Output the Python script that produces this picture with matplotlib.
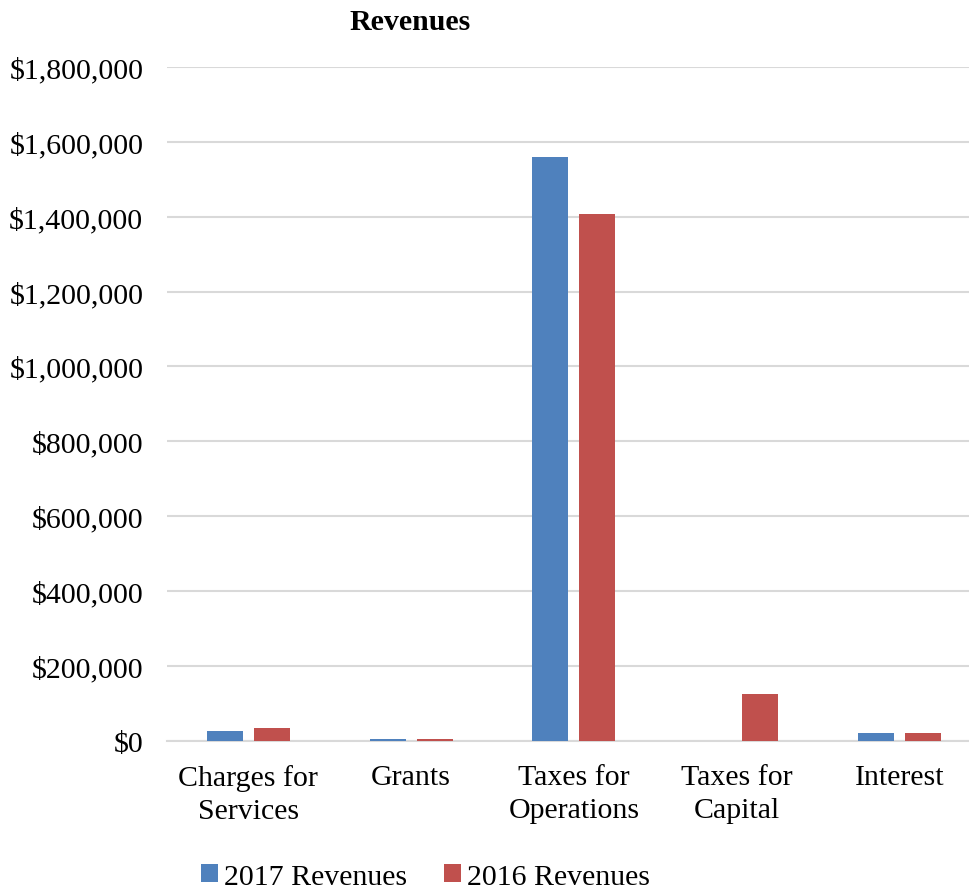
import matplotlib.pyplot as plt
import numpy as np

categories = ['Charges for\nServices', 'Grants', 'Taxes for\nOperations', 'Taxes for\nCapital', 'Interest']
rev_2017 = [26700, 4500, 1560000, 0, 20500]
rev_2016 = [33000, 4500, 1406000, 125000, 20500]
series_names = ['2017 Revenues', '2016 Revenues']
yticks = np.arange(0, 1800001, 200000)

plt.rcParams['font.family'] = 'Liberation Serif'
fontsize = 21.5

fig = plt.figure(figsize=(9.69, 8.95), dpi=100)
# plot area runs past the right edge of the picture, as in the original
ax = fig.add_axes([0.1723, 0.1713, 0.8398, 0.7527])

ind = np.arange(len(categories))
width = 0.221
offset = 0.144

ax.bar(ind - offset, rev_2017, width, color='#4f81bd', label=series_names[0], zorder=3)
ax.bar(ind + offset, rev_2016, width, color='#c0504d', label=series_names[1], zorder=3)

ax.set_xlim(-0.5, len(categories) - 0.5)
ax.set_ylim(0, 1800000)
ax.set_yticks(yticks)
ax.set_yticklabels([f'${v:,.0f}' for v in yticks], fontsize=fontsize)
ax.set_xticks(ind)
ax.set_xticklabels(categories, fontsize=fontsize, linespacing=1.35)
ax.tick_params(axis='x', length=0, pad=17)
ax.tick_params(axis='y', length=0, pad=17)

ax.grid(axis='y', color='#d9d9d9', linewidth=1.5, zorder=0)
for s in ['top', 'right', 'left']:
    ax.spines[s].set_visible(False)
ax.spines['bottom'].set_color('#d9d9d9')
ax.spines['bottom'].set_linewidth(1.5)

fig.text(0.423, 0.975, 'Revenues', fontsize=fontsize, fontweight='bold', ha='center', va='center')

fig.legend(loc='center', bbox_to_anchor=(0.439, 0.019), ncol=2, frameon=False, fontsize=fontsize,
           handlelength=0.55, handleheight=0.55, handletextpad=0.2, columnspacing=1.25)

fig.savefig('out.png', dpi=100)
